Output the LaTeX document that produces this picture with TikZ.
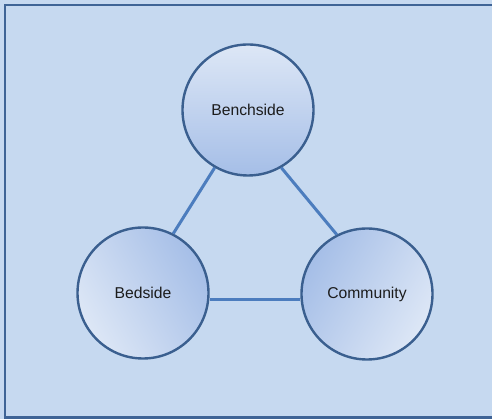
\documentclass[tikz,border=0pt]{standalone}
\usepackage{fontspec}
\setmainfont{Liberation Sans}
\definecolor{panelfill}{HTML}{C6D9F0}
\definecolor{panelline}{HTML}{3F6496}
\definecolor{ringline}{HTML}{3A5F8F}
\definecolor{lightfill}{HTML}{DDE7F6}
\definecolor{darkfill}{HTML}{A5BEE7}
\definecolor{linkcol}{HTML}{4C7DBE}
\definecolor{labelcol}{HTML}{1C1C1C}
\begin{document}
\begin{tikzpicture}[x=1pt,y=1pt,
  hub/.style={circle, draw=ringline, line width=2.4pt, minimum size=131pt,
    inner sep=0pt, text=labelcol, font=\fontsize{15.7}{18}\selectfont,
    top color=darkfill, bottom color=lightfill},
  link/.style={draw=linkcol, line width=3pt}]
  \useasboundingbox (0,0) rectangle (492,419);
  % panel
  \fill[panelfill] (0,0) rectangle (492,419);
  \draw[panelline, line width=2.6pt] (5,1.5) rectangle (500,414);
  % hubs, shaded darker towards the middle of the triangle
  \node[hub, shading angle=180] (bench) at (248,309) {Benchside};
  \node[hub, shading angle=-60] (bed) at (143,126) {Bedside};
  \node[hub, shading angle=60] (comm) at (367,125) {Community};
  % links
  \draw[link] (bench.240) -- (bed.63);
  \draw[link] (bench.300) -- (comm.117);
  \draw[link] ([yshift=-7pt]bed.east) -- ([yshift=-6pt]comm.west);
\end{tikzpicture}
\end{document}
